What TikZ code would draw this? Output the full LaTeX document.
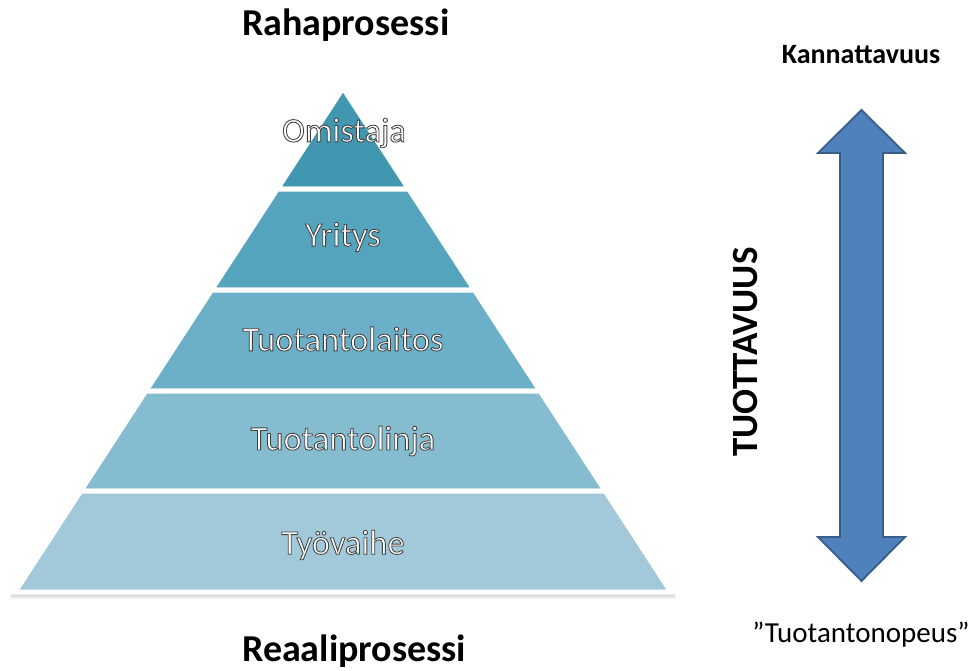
\documentclass[tikz,border=0pt]{standalone}
\usepackage{fontspec}
\setmainfont{Carlito}
\definecolor{layA}{HTML}{4196B0}
\definecolor{layB}{HTML}{55A4BE}
\definecolor{layC}{HTML}{6BB0C8}
\definecolor{layD}{HTML}{86BCD0}
\definecolor{layE}{HTML}{A1C9DA}
\definecolor{arrowfill}{HTML}{4F81BD}
\definecolor{arrowline}{HTML}{385D8A}
% white lettering with a dark rim: fill-then-stroke text rendering
\newcommand\rimtext[1]{{\color{white}%
  \special{pdf:code q 0.25 0.25 0.25 RG 2 Tr 0.85 w}#1\special{pdf:code Q}}}
\tikzset{
  layer/.style={line width=5pt, draw=white, line join=miter},
  tierlabel/.style={font=\fontsize{34.5}{38}\selectfont, inner sep=0pt, anchor=center},
  heading/.style={font=\fontsize{38}{42}\selectfont\bfseries, inner sep=0pt, anchor=west, text=black},
  sidelabel/.style={font=\fontsize{28}{32}\selectfont, inner sep=0pt, text=black},
  bigarrow/.style={fill=arrowfill, draw=arrowline, line width=1.8pt, line join=miter}
}
\begin{document}
\begin{tikzpicture}[x=1pt,y=-1pt]
\useasboundingbox[fill=white] (0,0) rectangle (976,671);

% soft shade under the pyramid base
\foreach \o/\a in {7/0.05,5/0.07,3/0.09}{
  \fill[black, opacity=\a] (344,90) -- (673+\o*0.6,592+\o) -- (13-\o*0.6,592+\o) -- cycle;}

% pyramid tiers, top to bottom
\filldraw[layer, fill=layA] (343,88) -- (408.7,189) -- (277.3,189) -- cycle;
\filldraw[layer, fill=layB] (277.3,189) -- (408.7,189) -- (474.5,290) -- (211.5,290) -- cycle;
\filldraw[layer, fill=layC] (211.5,290) -- (474.5,290) -- (540.2,391) -- (145.8,391) -- cycle;
\filldraw[layer, fill=layD] (145.8,391) -- (540.2,391) -- (605.3,491) -- (80.7,491) -- cycle;
\filldraw[layer, fill=layE] (80.7,491) -- (605.3,491) -- (671,592) -- (15,592) -- cycle;

\node[tierlabel] (omistaja) at (344,133) {\rimtext{Omistaja}};
\node[tierlabel] (yritys) at (343,237) {\rimtext{Yritys}};
\node[tierlabel] (laitos) at (343,339) {\rimtext{Tuotantolaitos}};
\node[tierlabel] (linja) at (343,441) {\rimtext{Tuotantolinja}};
\node[tierlabel] (vaihe) at (343,545) {\rimtext{Työvaihe}};

\node[heading] (raha) at (242,25) {Rahaprosessi};
\node[heading] (reaali) at (242,651) {Reaaliprosessi};

% double-headed arrow
\filldraw[bigarrow] (861.5,110) -- (905,153) -- (883,153) -- (883,537) -- (905,537)
  -- (861.5,581) -- (818,537) -- (840,537) -- (840,153) -- (818,153) -- cycle;

\node[sidelabel, font=\fontsize{28}{32}\selectfont\bfseries] (kann) at (861,55) {Kannattavuus};
\node[sidelabel, font=\fontsize{29}{32}\selectfont] (nopeus) at (861,635) {”Tuotantonopeus”};
\node[sidelabel, font=\fontsize{37}{40}\selectfont\bfseries, rotate=90] (tuott) at (745,352) {TUOTTAVUUS};
\end{tikzpicture}
\end{document}
